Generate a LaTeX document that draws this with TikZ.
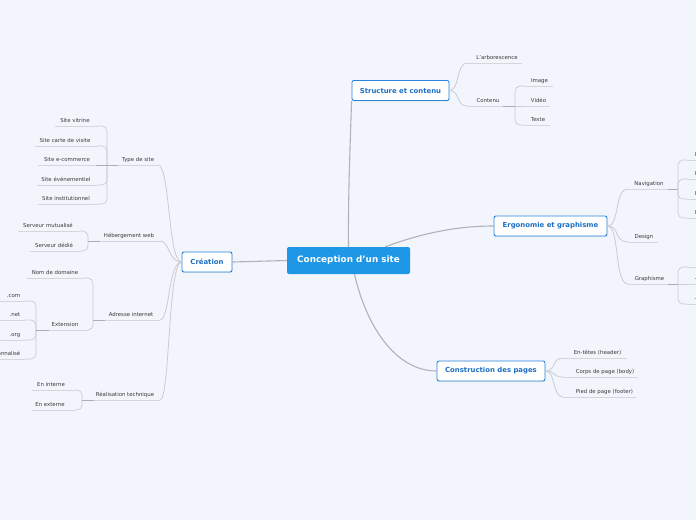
\documentclass[tikz,border=0pt]{standalone}
\usepackage{fontspec}
\setmainfont{DejaVu Sans}
\usetikzlibrary{shadows}
\definecolor{bgc}{HTML}{F3F5FC}
\definecolor{mainblue}{HTML}{1E98E6}
\definecolor{boxblue}{HTML}{2A86DA}
\definecolor{txtblue}{HTML}{1C6FC4}
\definecolor{leafgray}{HTML}{3A3A3A}
\definecolor{linegray}{HTML}{C9CCD3}
\definecolor{ulgray}{HTML}{D3D6DD}
\definecolor{maingray}{HTML}{AEB2BA}
\definecolor{stubgray}{HTML}{A9ADB5}
\newcommand\leafitem[6]{%
  \coordinate (#1-l) at (#4,#3);
  \coordinate (#1-r) at (#5,#3);
  \draw[uline] (#1-l) -- (#1-r);
  \node[leaf] (#1) at (#2,#3-4) {#6};}
\begin{document}
\begin{tikzpicture}[x=1pt,y=-1pt,
  leaf/.style={anchor=base,inner sep=0pt,text=leafgray,font=\fontsize{5.4}{6.5}\selectfont},
  uline/.style={draw=ulgray,line width=0.7pt},
  route/.style={draw=linegray,line width=0.7pt,rounded corners=5pt},
  curve/.style={draw=linegray,line width=0.8pt},
  mainlink/.style={draw=maingray,line width=1.1pt},
  stub/.style={draw=stubgray,line width=0.8pt},
  topic/.style={draw=boxblue,line width=0.9pt,fill=white,rounded corners=2pt,inner sep=0pt,
    text=txtblue,font=\fontsize{6.9}{8}\selectfont\bfseries,minimum height=20pt,
    drop shadow={opacity=0.18,shadow xshift=0.4pt,shadow yshift=-0.9pt}},
  central/.style={fill=mainblue,rounded corners=2pt,inner sep=0pt,text=white,
    font=\fontsize{8.8}{10}\selectfont\bfseries,minimum width=123pt,minimum height=27pt}]
\useasboundingbox (0,0) rectangle (696,520);
\clip (0,0) rectangle (696,520);
\fill[bgc] (0,0) rectangle (696,520);

% main nodes
\node[central] (c) at (348.5,260.5) {Conception d’un site};
\node[topic,minimum width=50pt] (cre) at (207,262) {Création};
\node[topic,minimum width=97pt] (str) at (400.5,90.5) {Structure et contenu};
\node[topic,minimum width=113pt] (erg) at (550.5,226) {Ergonomie et graphisme};
\node[topic,minimum width=108pt] (con) at (491,371) {Construction des pages};

% main links
\draw[mainlink] (c.west) -- (cre.east);
\draw[mainlink] (c.north) .. controls (348,200) and (350,150) .. (str.south west);
\draw[mainlink] ([xshift=-25pt]c.north east) .. controls (425,232) and (460,226) .. (erg.west);
\draw[mainlink] ([xshift=6pt]c.south) .. controls (366,325) and (395,371) .. (con.west);

% ---------- Création branch ----------
\leafitem{typ}{138}{165}{107}{158}{Type de site}
\leafitem{heb}{129}{241}{88}{160}{Hébergement web}
\leafitem{adr}{131}{320}{93}{160}{Adresse internet}
\leafitem{rea}{125}{400}{82}{160}{Réalisation technique}
\foreach \n in {typ,heb,adr,rea}
  \draw[curve] (cre.west) .. controls (168,262) and (170,262 |- \n-r) .. (\n-r);

\leafitem{vit}{75}{126}{55}{97}{Site vitrine}
\leafitem{cart}{65}{146}{35}{97}{Site carte de visite}
\leafitem{ecom}{67}{165}{38}{97}{Site e-commerce}
\leafitem{even}{66}{185}{37}{97}{Site événementiel}
\leafitem{inst}{66}{204}{38}{97}{Site institutionnel}
\foreach \n in {vit,cart,even,inst}
  \draw[route] (typ-l) -- (typ-l |- \n-r) -- (\n-r);
\draw[route] (typ-l) -- (ecom-r);
\draw[stub] ([xshift=-11pt]typ-l) -- ([xshift=11pt]typ-l);

\leafitem{mut}{48}{231}{18}{80}{Serveur mutualisé}
\leafitem{ded}{54}{251}{30}{80}{Serveur dédié}
\foreach \n in {mut,ded}
  \draw[route] (heb-l) -- (heb-l |- \n-r) -- (\n-r);
\draw[stub] (heb-l) -- ([xshift=12pt]heb-l);

\leafitem{dom}{55}{278}{27}{83}{Nom de domaine}
\leafitem{ext}{65}{330}{36}{88}{Extension}
\foreach \n in {dom,ext}
  \draw[route] (adr-l) -- (adr-l |- \n-r) -- (\n-r);
\draw[stub] (adr-l) -- ([xshift=12pt]adr-l);

\leafitem{com}{13.5}{301}{0}{25}{.com}
\leafitem{net}{15}{320}{0}{25}{.net}
\leafitem{org}{15}{340}{0}{25}{.org}
\coordinate (per-l) at (0,359);
\coordinate (per-r) at (25,359);
\draw[uline] (per-l) -- (per-r);
\node[leaf,anchor=base east] (per) at (20.5,355) {Personnalisé};
\foreach \n in {com,net,org,per}
  \draw[route] (ext-l) -- (ext-l |- \n-r) -- (\n-r);
\draw[stub] (ext-l) -- ([xshift=13pt]ext-l);

\leafitem{int}{51}{390}{32}{75}{En interne}
\leafitem{exn}{50}{410}{32}{75}{En externe}
\foreach \n in {int,exn}
  \draw[route] (rea-l) -- (rea-l |- \n-r) -- (\n-r);
\draw[stub] (rea-l) -- ([xshift=12pt]rea-l);

% ---------- Structure branch ----------
\leafitem{arb}{497}{63}{467}{522}{L'arborescence}
\leafitem{cont}{488}{106}{467}{515}{Contenu}
\foreach \n in {arb,cont}
  \draw[curve] (str.east) .. controls (460,90.5) and (456,90.5 |- \n-l) .. (\n-l);
\leafitem{img}{539.5}{86}{525}{553}{Image}
\leafitem{vid}{538.5}{106}{525}{550}{Vidéo}
\leafitem{txt}{538}{125}{525}{550}{Texte}
\foreach \n in {img,txt}
  \draw[route] (cont-r) -- (cont-r |- \n-l) -- (\n-l);
\draw[route] (cont-r) -- (vid-l);
\draw[stub] ([xshift=-12pt]cont-r) -- (cont-r);

% ---------- Ergonomie branch ----------
\leafitem{nav}{649}{189}{628}{678}{Navigation}
\leafitem{des}{644}{242}{628}{658}{Design}
\leafitem{gra}{649.5}{284}{628}{678}{Graphisme}
\foreach \n in {nav,des,gra}
  \draw[curve] (erg.east) .. controls (620,226) and (614,226 |- \n-l) .. (\n-l);
\draw[stub] ([xshift=-10pt]nav-r) -- (nav-r);
\draw[stub] ([xshift=-10pt]gra-r) -- (gra-r);
\foreach \n/\y in {na/160,nb/179,nc/199,nd/218}{
  \coordinate (\n-l) at (687,\y);
  \coordinate (\n-r) at (700,\y);
  \draw[uline] (\n-l) -- (\n-r);
  \node[leaf,anchor=base west] (\n) at (694.6,\y-4) {I};
  \draw[route] (nav-r) -- (nav-r |- \n-l) -- (\n-l);
}
\foreach \n/\y/\t in {ga/267/{},gb/284/{-},gc/304/{-}}{
  \coordinate (\n-l) at (687,\y);
  \coordinate (\n-r) at (700,\y);
  \draw[uline] (\n-l) -- (\n-r);
  \node[leaf,anchor=base west] (\n) at (694.3,\y-4) {\t};
}
\draw[route] (gra-r) -- (gra-r |- ga-l) -- (ga-l);
\draw[route] (gra-r) -- (gb-l);
\draw[route] (gra-r) -- (gra-r |- gc-l) -- (gc-l);

% ---------- Construction branch ----------
\leafitem{hd}{597.5}{358}{563}{627}{En-têtes (header)}
\leafitem{bd}{605}{377}{563}{638}{Corps de page (body)}
\leafitem{ft}{604.5}{397}{563}{636}{Pied de page (footer)}
\foreach \n in {hd,bd,ft}
  \draw[curve] (con.east) .. controls (556,371) and (552,371 |- \n-l) .. (\n-l);
\end{tikzpicture}
\end{document}
